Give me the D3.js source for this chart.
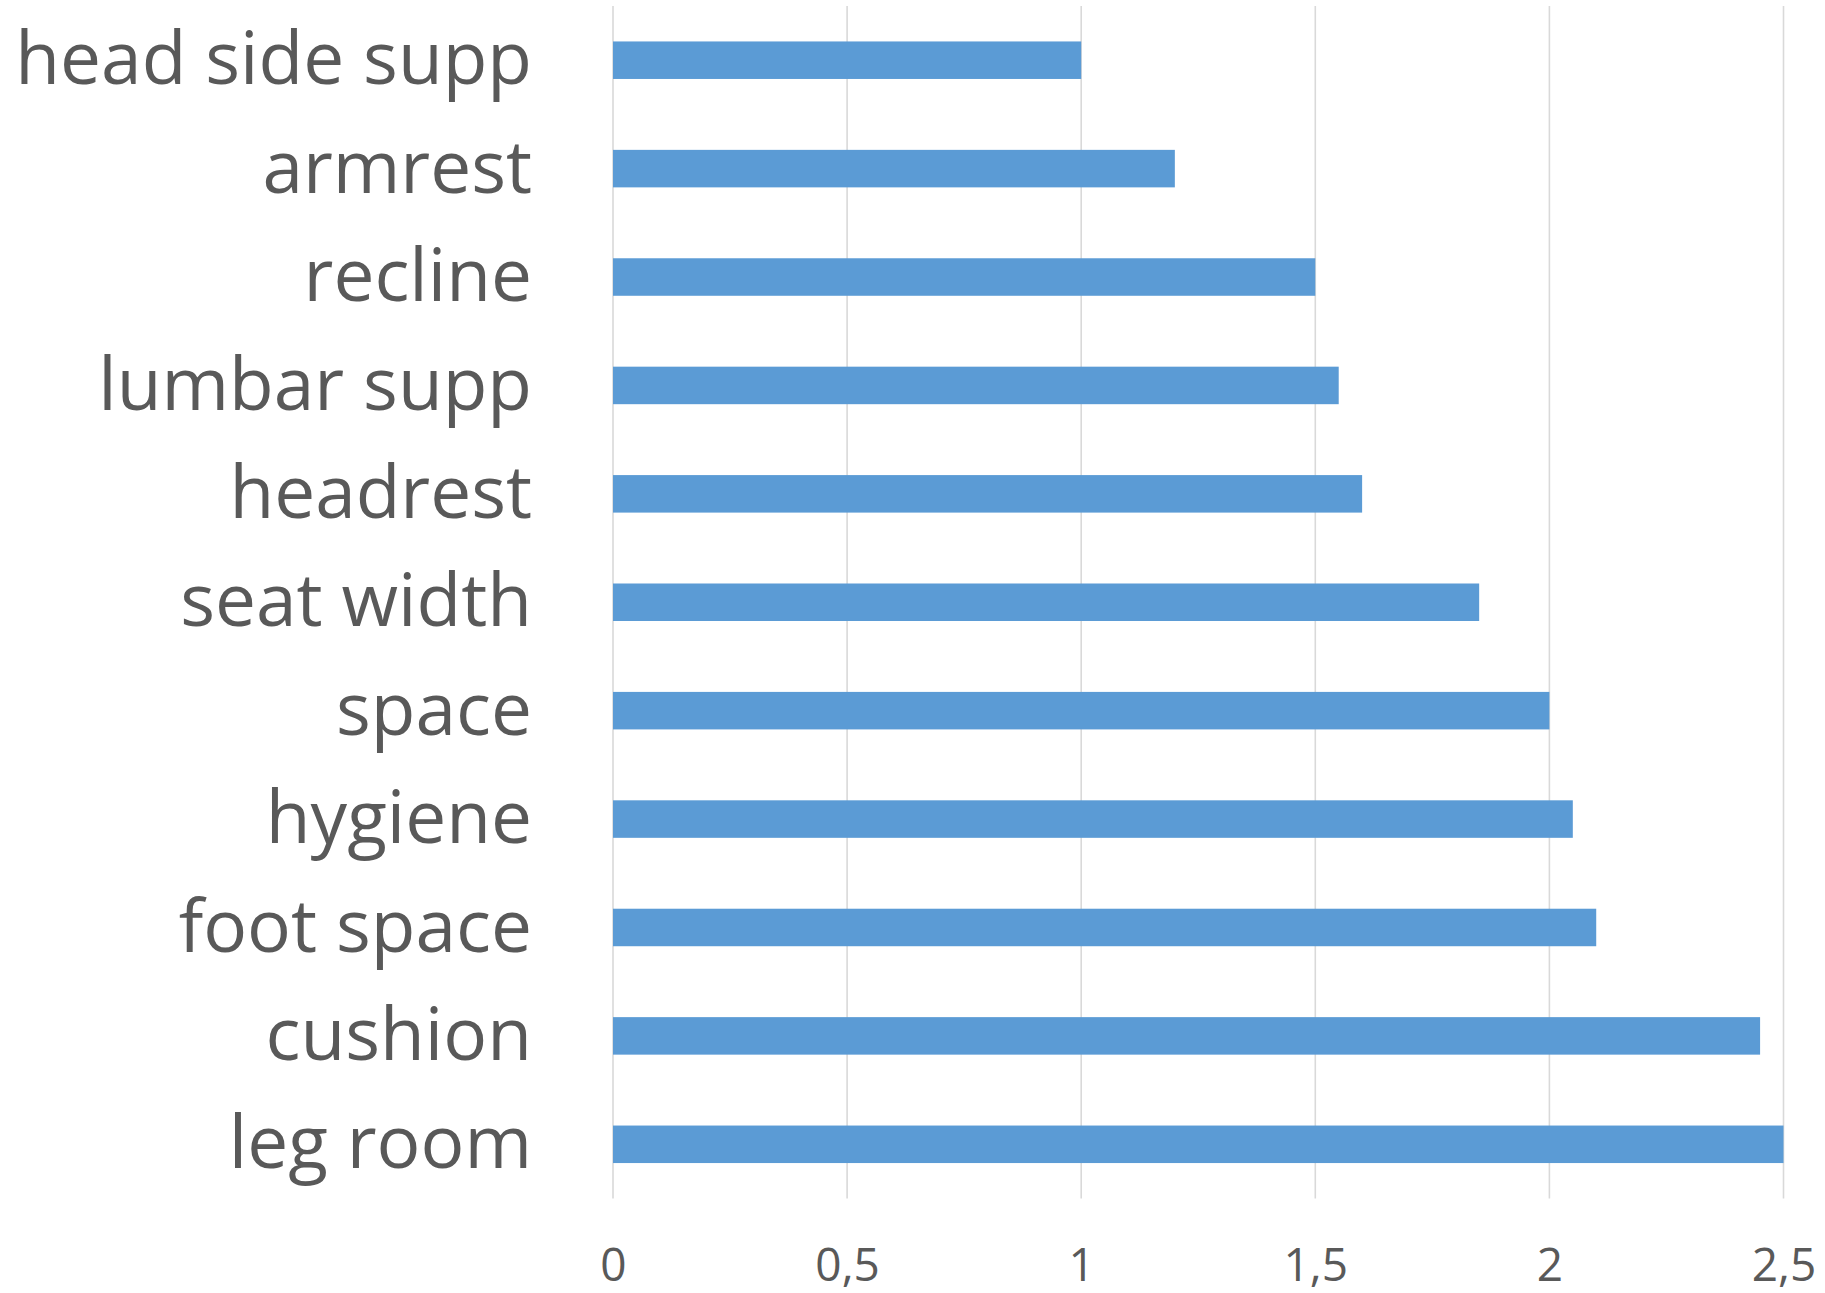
<!DOCTYPE html>
<html><head><meta charset="utf-8">
<script src="https://cdn.jsdelivr.net/npm/d3@7"></script>
<style>body{margin:0;background:#fff}svg{display:block}</style>
</head><body>
<svg id="chart" width="1825" height="1293"></svg>
<script>
const categories = ["head side supp","armrest","recline","lumbar supp","headrest","seat width","space","hygiene","foot space","cushion","leg room"];
const values = [1.0,1.2,1.5,1.55,1.6,1.85,2.0,2.05,2.1,2.45,2.5];
const xTicks = [0,0.5,1,1.5,2,2.5];
const xTickLabels = ["0","0,5","1","1,5","2","2,5"];

const svg = d3.select("#chart");
const x = d3.scaleLinear().domain([0,2.5]).range([613,1783.5]);
const y = d3.scaleBand().domain(categories).range([6,1198.5]).paddingInner(0.654).paddingOuter(0.327);
const font = "'Open Sans', sans-serif";
const txt = "#595959";

// gridlines
svg.append("g").selectAll("line").data(xTicks).join("line")
  .attr("x1", d=>x(d)).attr("x2", d=>x(d))
  .attr("y1", 6).attr("y2", 1198.5)
  .attr("stroke", "#d9d9d9").attr("stroke-width", 1.6);

// bars
svg.append("g").selectAll("rect").data(values).join("rect")
  .attr("x", x(0)).attr("y", (d,i)=>y(categories[i]))
  .attr("width", d=>x(d)-x(0)).attr("height", y.bandwidth())
  .attr("fill", "#5b9bd5");

// x axis labels
const xAxis = d3.axisBottom(x).tickValues(xTicks).tickFormat((d,i)=>xTickLabels[i]).tickSize(0).tickPadding(0);
const gx = svg.append("g").attr("transform","translate(0,1281)").call(xAxis);
gx.select(".domain").remove();
gx.selectAll("text").attr("y",0).attr("dy",0).attr("font-family",font).attr("font-size",46).attr("fill",txt);

// y labels
const yAxis = d3.axisLeft(y).tickSize(0).tickPadding(0);
const gy = svg.append("g").attr("transform","translate(532,0)").call(yAxis);
gy.select(".domain").remove();
gy.selectAll("text").attr("x",0).attr("dy","0.33em").attr("font-family",font).attr("font-size",73).attr("fill",txt);
</script>
</body></html>
